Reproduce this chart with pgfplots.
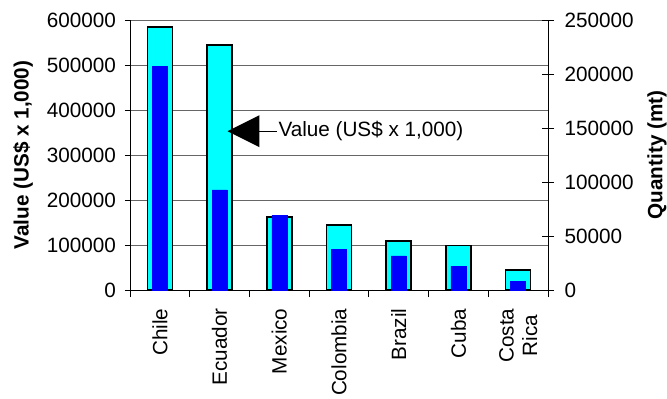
\documentclass[border=0pt]{standalone}
\usepackage{fontspec}
\setmainfont{Liberation Sans}
\usepackage{pgfplots}
\pgfplotsset{compat=1.18}
\definecolor{cyanbar}{HTML}{00FFFF}
\definecolor{bluebar}{HTML}{0000FF}
\newcommand{\fs}{\fontsize{20.7bp}{23.5bp}\selectfont}
\begin{document}
\begin{tikzpicture}
\begin{axis}[
  scale only axis, width=418bp, height=270bp,
  at={(0,0)}, anchor=south west,
  xmin=-0.5, xmax=6.5, ymin=0, ymax=600000,
  axis y line*=left, axis x line*=bottom,
  axis line style={black, line width=0.8bp, -},
  xtick={0,...,6},
  xticklabels={Chile, Ecuador, Mexico, Colombia, Brazil, Cuba, {Costa\\Rica}},
  major x tick style={draw=none},
  minor xtick={-0.5,0.5,...,6.5},
  minor tick length=7bp,
  major tick length=5bp,
  tick align=outside,
  tick style={black, line width=0.8bp},
  ytick={0,100000,...,600000},
  scaled y ticks=false,
  yticklabel style={/pgf/number format/fixed, /pgf/number format/1000 sep={}, xshift=-5.5bp},
  /pgf/number format/assume math mode=true,
  tick label style={font=\fs},
  xticklabel style={yshift=-10bp, rotate=90, anchor=east, align=center},
  ymajorgrids,
  major grid style={black!60, line width=0.8bp},
  ylabel={Value (US\$ x 1,000)},
  ylabel style={font=\bfseries\fs, at={(axis description cs:-0.256,0.5)}, anchor=center},
  clip=false,
]
\addplot[ybar, bar width=25bp, fill=cyanbar, draw=black, line width=1.5bp]
  coordinates {(0,584000) (1,544000) (2,162000) (3,144000) (4,109000) (5,98500) (6,44000)};
\fill[black] (axis cs:1.133,353000) -- (axis cs:1.667,388500) -- (axis cs:1.667,317500) -- cycle;
\draw[black, line width=0.8bp] (axis cs:1.667,353000) -- (axis cs:1.967,353000);
\node[anchor=west, inner sep=1bp, font=\fs] at (axis cs:1.967,353000) {Value (US\$ x 1,000)};
\end{axis}
\begin{axis}[
  scale only axis, width=418bp, height=270bp,
  at={(0,0)}, anchor=south west,
  xmin=-0.5, xmax=6.5, ymin=0, ymax=250000,
  axis y line*=right, axis x line=none,
  axis line style={black, line width=0.8bp, -},
  ytick={0,50000,...,250000},
  scaled y ticks=false,
  yticklabel style={/pgf/number format/fixed, /pgf/number format/1000 sep={}, xshift=7bp},
  /pgf/number format/assume math mode=true,
  tick label style={font=\fs},
  tick align=center, major tick length=12bp,
  tick style={black, line width=0.8bp},
  ylabel={Quantity (mt)},
  ylabel style={font=\bfseries\fs, at={(axis description cs:1.2608,0.5)}, anchor=center},
]
\addplot[ybar, bar width=15bp, fill=bluebar, draw=bluebar]
  coordinates {(0,207400) (1,92600) (2,69400) (3,37700) (4,31500) (5,22200) (6,7700)};
\end{axis}
\pgfresetboundingbox
\path[use as bounding box] (-130bp,-109bp) rectangle (537bp,290bp);
\end{tikzpicture}
\end{document}
